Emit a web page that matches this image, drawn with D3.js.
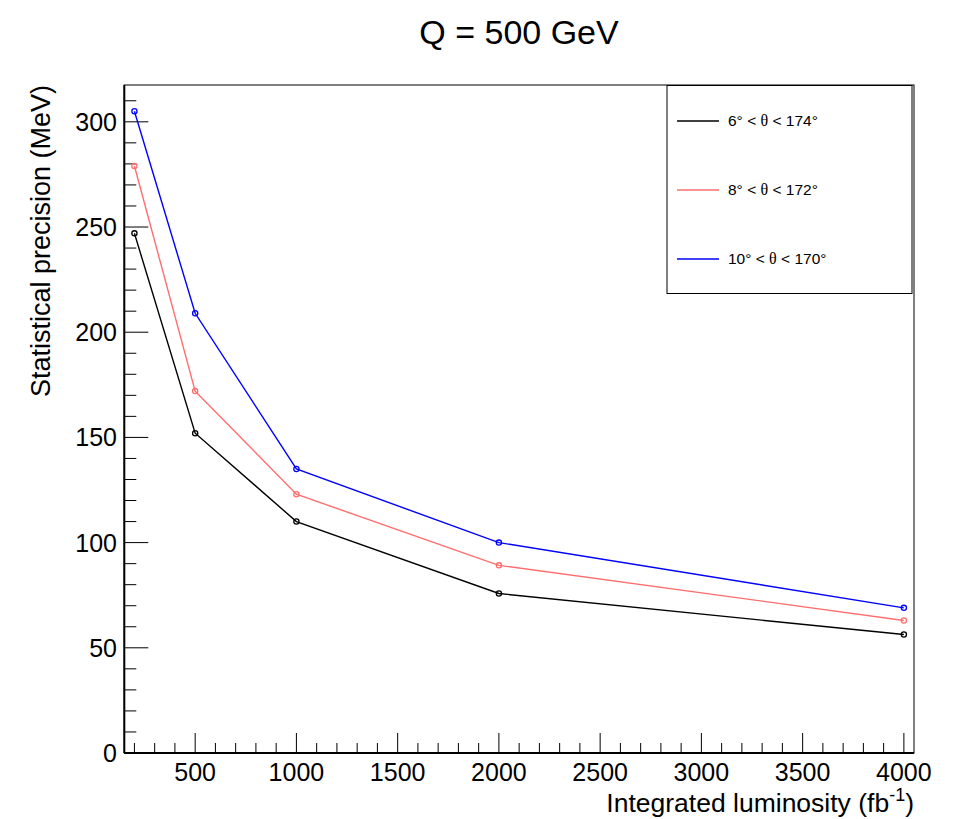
<!DOCTYPE html>
<html><head><meta charset="utf-8">
<script src="https://cdn.jsdelivr.net/npm/d3@7"></script>
<style>body{margin:0;background:#fff}svg{display:block}text{font-family:"Liberation Sans",Arial,Helvetica,sans-serif}</style>
</head><body>
<script>
const luminosity = [200, 500, 1000, 2000, 4000];
const seriesNames = ["6° < θ < 174°", "8° < θ < 172°", "10° < θ < 170°"];
const seriesColors = ["#000000", "#ff6e6e", "#0000ff"];
const black = [247, 152, 110, 75.8, 56.3];
const red = [279, 172, 123, 89.2, 63];
const blue = [305, 209, 135, 100, 69];
const xTicks = [500, 1000, 1500, 2000, 2500, 3000, 3500, 4000];
const yTicks = [0, 50, 100, 150, 200, 250, 300];
const title = "Q = 500 GeV";

const W = 963, H = 819;
const L = 124.3, R = 914, T = 85, B = 753;
const svg = d3.select("body").append("svg").attr("width", W).attr("height", H);
const x = d3.scaleLinear().domain([150, 4050]).range([L, R]);
const y = d3.scaleLinear().domain([0, 317.5]).range([B, T]);

// frame
svg.append("rect").attr("x", L).attr("y", T).attr("width", R - L).attr("height", B - T)
  .attr("fill", "none").attr("stroke", "#000").attr("stroke-width", 1);

// x axis ticks (inside)
const xMinor = d3.range(200, 4050, 100);
svg.append("g").selectAll("line").data(xMinor).join("line")
  .attr("x1", d => x(d)).attr("x2", d => x(d))
  .attr("y1", B).attr("y2", d => B - (d % 500 === 0 ? 20 : 10))
  .attr("stroke", "#000").attr("stroke-width", 1);
svg.append("line").attr("x1", L).attr("x2", R).attr("y1", B).attr("y2", B).attr("stroke", "#000").attr("stroke-width", 2);
svg.append("g").selectAll("text").data(xTicks).join("text")
  .attr("x", d => x(d)).attr("y", 781).attr("text-anchor", "middle")
  .attr("font-size", 25).text(d => d);

// y axis ticks (inside)
const yMinor = d3.range(0, 317, 10);
svg.append("g").selectAll("line").data(yMinor).join("line")
  .attr("x1", L).attr("x2", d => L + (d % 50 === 0 ? 24 : 12))
  .attr("y1", d => y(d)).attr("y2", d => y(d))
  .attr("stroke", "#000").attr("stroke-width", 1);
svg.append("line").attr("x1", L).attr("x2", L).attr("y1", T).attr("y2", B).attr("stroke", "#000").attr("stroke-width", 2);
svg.append("g").selectAll("text").data(yTicks).join("text")
  .attr("x", 117).attr("y", d => y(d) + 9).attr("text-anchor", "end")
  .attr("font-size", 25).text(d => d);

// axis titles
const xt = svg.append("text").attr("x", R).attr("y", 812).attr("text-anchor", "end").attr("font-size", 26.5);
xt.append("tspan").text("Integrated luminosity (fb");
xt.append("tspan").attr("font-size", 18).attr("dy", -11).text("-1");
xt.append("tspan").attr("dy", 11).text(")");
svg.append("text").attr("transform", `translate(50,${T}) rotate(-90)`)
  .attr("text-anchor", "end").attr("font-size", 27).text("Statistical precision (MeV)");

// title
svg.append("text").attr("x", 519).attr("y", 44).attr("text-anchor", "middle").attr("font-size", 34).text(title);

// series
const all = [black, red, blue];
const line = d3.line().x((d, i) => x(luminosity[i])).y(d => y(d));
all.forEach((vals, k) => {
  svg.append("path").attr("d", line(vals)).attr("fill", "none")
    .attr("stroke", seriesColors[k]).attr("stroke-width", 1.4);
  svg.append("g").selectAll("circle").data(vals).join("circle")
    .attr("cx", (d, i) => x(luminosity[i])).attr("cy", d => y(d)).attr("r", 2.6)
    .attr("fill", "none").attr("stroke", seriesColors[k]).attr("stroke-width", 1.3);
});

// legend
const lg = svg.append("g");
lg.append("rect").attr("x", 667).attr("y", 85.5).attr("width", 245).attr("height", 208)
  .attr("fill", "#fff").attr("stroke", "#000").attr("stroke-width", 1);
const ly = [121, 190, 259];
seriesNames.forEach((name, k) => {
  lg.append("line").attr("x1", 677).attr("x2", 719).attr("y1", ly[k]).attr("y2", ly[k])
    .attr("stroke", seriesColors[k]).attr("stroke-width", 1.4);
  const parts = name.split("θ");
  const t = lg.append("text").attr("x", 728).attr("y", ly[k] + 5).attr("font-size", 15.5);
  t.append("tspan").text(parts[0]);
  t.append("tspan").attr("font-family", "'Liberation Serif','DejaVu Serif',serif").attr("font-size", 16).text("θ");
  t.append("tspan").text(parts[1]);
});
</script>
</body></html>
